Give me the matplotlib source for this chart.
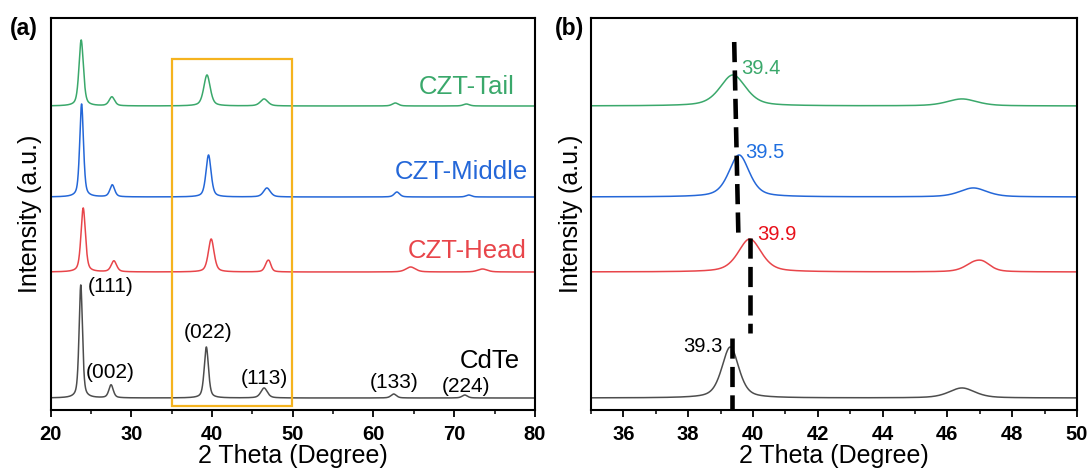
import numpy as np
import matplotlib
matplotlib.use('Agg')
import matplotlib.pyplot as plt
from matplotlib.ticker import MultipleLocator

plt.rcParams['font.family'] = ['Liberation Sans', 'DejaVu Sans']

# sample names, colours and vertical offsets (a.u.)
names = ['CdTe', 'CZT-Head', 'CZT-Middle', 'CZT-Tail']
colors = ['#4d4d4d', '#e8454a', '#2467d8', '#3aa86b']
offsets = [12, 138, 213, 304]

# peaks: position (deg), height (a.u.), FWHM (deg)
pos_cdte = [23.75, 27.5, 39.3, 46.45, 62.5, 71.3]
hgt_cdte = [113, 13, 51, 10, 4, 3]
fwhm_cdte = [0.5, 0.65, 0.62, 0.95, 0.8, 0.8]

pos_head = [24.05, 27.85, 39.9, 46.8, 47.1, 64.6, 73.5]
hgt_head = [64, 11, 33, 7, 7, 5, 3]
fwhm_head = [0.65, 0.8, 0.85, 0.7, 0.6, 1.4, 1.4]

pos_mid = [23.85, 27.65, 39.57, 46.8, 62.9, 71.8]
hgt_mid = [93, 12, 42, 9, 5, 2]
fwhm_mid = [0.55, 0.7, 0.75, 1.0, 0.8, 0.8]

pos_tail = [23.8, 27.6, 39.38, 46.45, 62.7, 71.5]
hgt_tail = [66, 9, 31, 7, 3, 2]
fwhm_tail = [0.65, 0.8, 0.95, 1.1, 0.9, 0.9]

hkl = ['(111)', '(002)', '(022)', '(113)', '(133)', '(224)']
hkl_x = [27.4, 27.4, 39.5, 46.5, 62.5, 71.4]
hkl_y = [123, 37, 77, 32, 27, 23]

shift_vals = ['39.3', '39.9', '39.5', '39.4']


def pattern(x, pos, hgt, fwhm, base):
    # pseudo-Voigt sum built from the read peak list
    y = np.full_like(x, base, dtype=float)
    for c, h, w in zip(pos, hgt, fwhm):
        g = np.exp(-4 * np.log(2) * (x - c) ** 2 / w ** 2)
        l = 1 / (1 + 4 * (x - c) ** 2 / w ** 2)
        y += h * (0.5 * g + 0.5 * l)
    return y


x = np.linspace(20, 80, 6001)
peaks = [(pos_cdte, hgt_cdte, fwhm_cdte), (pos_head, hgt_head, fwhm_head),
         (pos_mid, hgt_mid, fwhm_mid), (pos_tail, hgt_tail, fwhm_tail)]
curves = [pattern(x, p, h, w, b) for (p, h, w), b in zip(peaks, offsets)]

fig = plt.figure(figsize=(10.92, 4.7), dpi=100)
ax1 = fig.add_axes([50.5 / 1092, 60 / 470, 484.5 / 1092, 392 / 470])
ax2 = fig.add_axes([591 / 1092, 60 / 470, 486 / 1092, 392 / 470])

for ax in (ax1, ax2):
    for yv, c in zip(curves, colors):
        ax.plot(x, yv, color=c, lw=1.1)
    ax.set_ylim(0, 392)
    ax.set_yticks([])
    for s in ax.spines.values():
        s.set_linewidth(1.5)
    ax.tick_params(axis='x', which='major', direction='out', length=5, width=1.3,
                   labelsize=14.5, pad=6)
    ax.tick_params(axis='x', which='minor', direction='out', length=3, width=1.1)
    ax.set_xlabel('2 Theta (Degree)', fontsize=18, labelpad=0)
    ax.set_ylabel('Intensity (a.u.)', fontsize=18, labelpad=6)

# panel (a)
ax1.set_xlim(20, 80)
ax1.xaxis.set_major_locator(MultipleLocator(10))
ax1.xaxis.set_minor_locator(MultipleLocator(5))
for lab in ax1.get_xticklabels():
    lab.set_fontweight('bold')
ax1.add_patch(plt.Rectangle((35.1, 4), 14.8, 347, fill=False,
                            edgecolor='#f5b31e', lw=1.6, zorder=5))
for t, xx, yy in zip(hkl, hkl_x, hkl_y):
    ax1.text(xx, yy, t, fontsize=15, ha='center', va='center')
lab_x = [74.4, 71.6, 70.9, 71.6]
lab_y = [49, 159, 238, 323]
for n, c, xx, yy in zip(names, colors, lab_x, lab_y):
    ax1.text(xx, yy, n, color='black' if n == 'CdTe' else c, fontsize=18.5,
             ha='center', va='center')
fig.text(10 / 1092, 1 - 28 / 470, '(a)', fontsize=16.5, fontweight='bold',
         va='center')

# panel (b)
ax2.set_xlim(35, 50)
ax2.xaxis.set_major_locator(MultipleLocator(2))
ax2.xaxis.set_minor_locator(MultipleLocator(1))
for lab in ax2.get_xticklabels():
    lab.set_fontweight('bold')
dash = dict(color='black', lw=3.3, dashes=(4.4, 1.8), zorder=6)
ax2.plot([39.42, 39.55], [368, 173], **dash)
ax2.plot([39.92, 39.92], [172, 77], **dash)
ax2.plot([39.36, 39.36], [72, 0], **dash)
val_colors = ['black', '#e8101a', '#1f6fe0', '#3aa86b']
val_x = [39.07, 40.14, 39.77, 39.63]
val_y = [64, 176, 258, 342]
for v, c, xx, yy in zip(shift_vals, val_colors, val_x, val_y):
    ax2.text(xx, yy, v, color=c, fontsize=14.5, va='center',
             ha='right' if v == '39.3' else 'left')
fig.text(555 / 1092, 1 - 28 / 470, '(b)', fontsize=16.5, fontweight='bold',
         va='center')

fig.savefig('out.png', dpi=100)
